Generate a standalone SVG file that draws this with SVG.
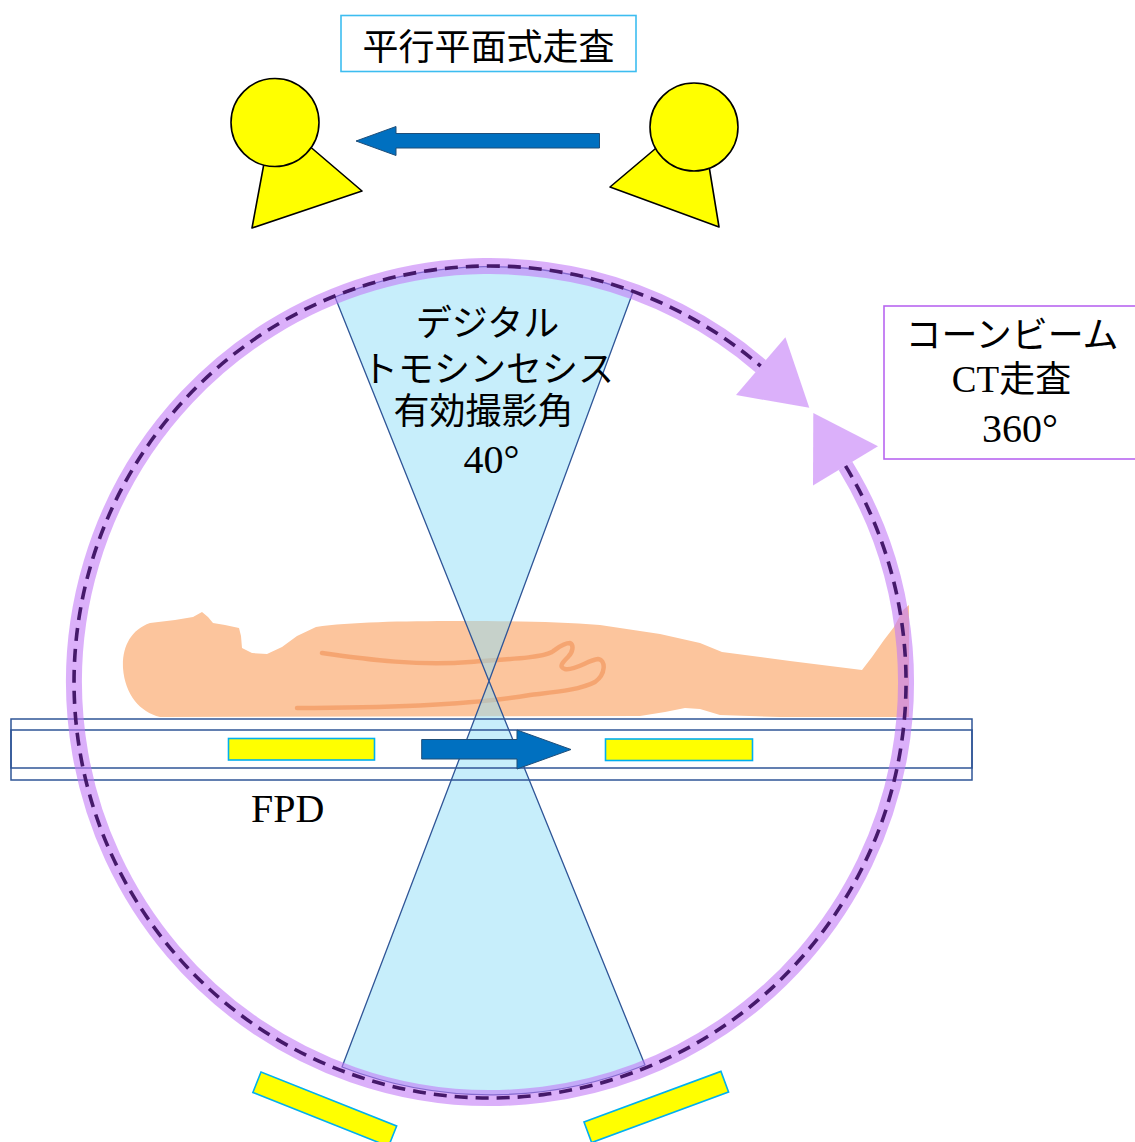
<svg xmlns="http://www.w3.org/2000/svg" width="1135" height="1142" viewBox="0 0 1135 1142">
  <style>
    .jp { font-family: "Noto Sans CJK JP", "Noto Sans", sans-serif; fill: #000; }
    .se { font-family: "Liberation Serif", "Noto Sans CJK JP", serif; fill: #000; }
    .src { fill: #FFFF00; stroke: #000; stroke-width: 1.6; stroke-linejoin: round; }
    .det { fill: #FFFF00; stroke: #00B0F0; stroke-width: 1.6; }
    .move { fill: #0070C0; stroke: #1F4E79; stroke-width: 1; }
    .beam { fill: #8FDDF8; fill-opacity: 0.5; stroke: #2F5597; stroke-width: 1.3; stroke-linejoin: round; }
    .table { fill: none; stroke: #2F5597; stroke-width: 1.5; }
    .orbit { fill: none; stroke: #C278F6; stroke-opacity: 0.59; stroke-width: 16; }
    .orbit-head { fill: #C278F6; fill-opacity: 0.59; }
    .orbit-dash { fill: none; stroke: #45196A; stroke-width: 3.6; stroke-dasharray: 13 8; }
  </style>

  <!-- parallel-plane scan label -->
  <g id="label-parallel">
    <rect x="341" y="15.5" width="295" height="56" fill="#fff" stroke="#3DBDF0" stroke-width="1.6"/>
    <text class="jp" x="488.5" y="60" font-size="36" text-anchor="middle">平行平面式走査</text>
  </g>

  <!-- X-ray tube, left position -->
  <g id="tube-left">
    <polygon class="src" points="273,115 362,191 252,228"/>
    <circle class="src" cx="275" cy="122.5" r="44"/>
  </g>

  <!-- X-ray tube, right position -->
  <g id="tube-right">
    <polygon class="src" points="700,111 610,187 719,227"/>
    <circle class="src" cx="694" cy="127" r="44"/>
  </g>

  <!-- patient lying on the table -->
  <g id="patient">
    <path fill="#FCC59D" d="M 123 668 C 122 648, 130 630, 150 623 L 175 620 L 193 617 L 202 612 L 208 617 L 213 623 L 225 625 L 239 628 L 241 636 L 242 648 L 252 653 L 267 654 L 282 647 L 297 636 L 316 627 C 350 622, 400 621, 460 621 C 520 621, 560 622, 600 625 L 660 634 L 700 643 L 722 652 L 790 661 L 862 670 L 872 657 L 884 640 L 894 627 L 903 610 L 909 605 L 909 717 L 780 717 L 720 715 L 700 709 L 685 708 L 665 712 L 640 716 L 160 717 C 140 712, 125 695, 123 668 Z"/>
    <path fill="none" stroke="#F39A63" stroke-opacity="0.75" stroke-width="4.5" stroke-linecap="round" stroke-linejoin="round" d="M 322 653 C 370 660, 420 666, 470 662 C 510 659, 540 658, 552 652 C 558 648, 563 643, 570 643 C 574 645, 573 652, 568 657 C 563 662, 558 667, 565 669 C 575 671, 588 660, 598 659 C 606 660, 606 674, 595 682 C 580 690, 555 692, 530 695 C 490 702, 420 708, 297 708"/>
  </g>

  <!-- tomosynthesis beam sweep (40 degrees) -->
  <g id="beam">
    <path class="beam" d="M 489 681 L 335 297 A 413 413 0 0 1 633 292 Z"/>
    <path class="beam" d="M 489 681 L 645 1065 A 413 413 0 0 1 342 1067 Z"/>
  </g>

  <!-- table with flat panel detector -->
  <g id="fpd-table">
    <rect class="table" x="11" y="719" width="961" height="61"/>
    <rect class="table" x="11" y="730" width="961" height="38"/>
    <rect class="det" x="228.5" y="738.5" width="146" height="21.5"/>
    <rect class="det" x="605.5" y="739" width="147" height="21.5"/>
  </g>

  <!-- connectors: movement arrows and the 360 degree orbit -->
  <g id="connectors">
    <polygon class="move" points="356,141 396,126.5 396,133.5 599.5,133.5 599.5,148 396,148 396,155.5"/>
    <polygon class="move" points="421.7,739.5 517,739.5 517,730 571,749.5 517,769 517,759 421.7,759"/>
    <path class="orbit" d="M 845.5 465.9 A 416 416 0 1 1 760.7 366.1"/>
    <path class="orbit-dash" d="M 845.5 465.9 A 416 416 0 1 1 760.7 366.1"/>
    <polygon class="orbit-head" points="785.4,337.2 736,395 809.3,407.8"/>
    <polygon class="orbit-head" points="878,446.2 813,485.6 813.3,412.9"/>
  </g>

  <!-- beam label -->
  <g id="label-tomo">
    <text class="jp" x="487.5" y="336" font-size="36" text-anchor="middle">デジタル</text>
    <text class="jp" x="488" y="382" font-size="36" text-anchor="middle">トモシンセシス</text>
    <text class="jp" x="483.5" y="424" font-size="36" text-anchor="middle">有効撮影角</text>
    <text class="se" x="491.5" y="473" font-size="40" text-anchor="middle">40°</text>
  </g>

  <!-- cone beam CT label -->
  <g id="label-cbct">
    <rect x="884" y="306" width="260" height="153" fill="#fff" stroke="#B866F0" stroke-width="1.6"/>
    <text class="jp" x="1012" y="348" font-size="36" text-anchor="middle">コーンビーム</text>
    <text x="1011.5" y="392" font-size="37" text-anchor="middle"><tspan class="se">CT</tspan><tspan class="jp" font-size="36">走査</tspan></text>
    <text class="se" x="1020" y="441.5" font-size="40" text-anchor="middle">360°</text>
  </g>

  <!-- FPD label -->
  <g id="label-fpd">
    <text class="se" x="251" y="821.5" font-size="40">FPD</text>
  </g>

  <!-- detectors below the orbit -->
  <g id="detector-left">
    <rect class="det" x="0" y="0" width="146" height="22" transform="translate(261 1072) rotate(21.7)"/>
  </g>
  <g id="detector-right">
    <rect class="det" x="0" y="0" width="146" height="22" transform="translate(584 1122) rotate(-20.3)"/>
  </g>
</svg>
